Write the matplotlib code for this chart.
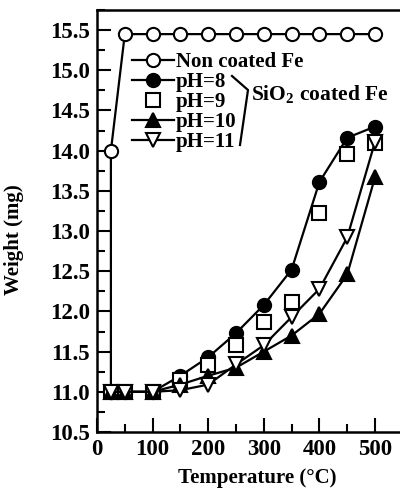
import matplotlib
matplotlib.use("Agg")
import matplotlib.pyplot as plt
from matplotlib.lines import Line2D
from matplotlib.ticker import MultipleLocator, FormatStrFormatter

plt.rcParams['font.family'] = ['Liberation Serif', 'DejaVu Serif']
plt.rcParams['font.weight'] = 'bold'
plt.rcParams['axes.labelweight'] = 'bold'
plt.rcParams['font.size'] = 15
plt.rcParams['mathtext.fontset'] = 'custom'
plt.rcParams['mathtext.rm'] = 'Liberation Serif:bold'
plt.rcParams['mathtext.bf'] = 'Liberation Serif:bold'

# data
temp_nc = [25, 25, 50, 100, 150, 200, 250, 300, 350, 400, 450, 500]
w_nc = [11.0, 14.0, 15.45, 15.45, 15.45, 15.45, 15.45, 15.45, 15.45, 15.45, 15.45, 15.45]

temp = [25, 50, 100, 150, 200, 250, 300, 350, 400, 450, 500]
w_ph8 = [11.0, 11.0, 11.0, 11.2, 11.43, 11.73, 12.08, 12.52, 13.61, 14.16, 14.3]
w_ph9 = [11.0, 11.0, 11.0, 11.15, 11.33, 11.58, 11.87, 12.12, 13.23, 13.96, 14.1]
w_ph10 = [11.0, 11.0, 11.0, 11.09, 11.2, 11.3, 11.5, 11.7, 11.97, 12.46, 13.67]
w_ph11 = [11.0, 11.0, 11.0, 11.02, 11.09, 11.34, 11.58, 11.93, 12.28, 12.92, 14.11]

fig = plt.figure(figsize=(4.0, 5.03), dpi=100)
ax = fig.add_axes([97 / 400, (503 - 432) / 503, (400 - 97) / 400, (432 - 10) / 503])

ms = 9.5
lw = 1.6
mew = 1.5
ax.plot(temp_nc, w_nc, '-o', color='k', mfc='white', ms=ms, lw=lw, mew=mew,
        label='Non coated Fe')
ax.plot(temp, w_ph8, '-o', color='k', mfc='k', ms=ms, lw=lw, mew=mew, label='pH=8')
ax.plot(temp, w_ph9, 's', color='k', mfc='white', ms=ms, mew=mew, ls='none', label='pH=9')
ax.plot(temp, w_ph10, '-^', color='k', mfc='k', ms=ms + 1, lw=lw, mew=mew, label='pH=10')
ax.plot(temp, w_ph11, '-v', color='k', mfc='white', ms=ms + 1, lw=lw, mew=mew, label='pH=11')

ax.set_xlim(0, (400 - 97) / 0.556)
ax.set_ylim(10.5, 15.75)
ax.xaxis.set_major_locator(MultipleLocator(100))
ax.xaxis.set_minor_locator(MultipleLocator(50))
ax.yaxis.set_major_locator(MultipleLocator(0.5))
ax.yaxis.set_minor_locator(MultipleLocator(0.25))
ax.yaxis.set_major_formatter(FormatStrFormatter('%.1f'))
ax.tick_params(which='both', direction='in', width=1.5, top=False, right=False)
ax.tick_params(which='major', length=10, pad=5, labelsize=16.5)
ax.tick_params(which='minor', length=6)
for s in ['left', 'bottom', 'top']:
    ax.spines[s].set_linewidth(1.8)
ax.spines['right'].set_visible(False)

ax.set_xlabel('Temperature (°C)')
ax.set_ylabel('Weight (mg)')
ax.xaxis.set_label_coords(0.53, -0.085)
ax.yaxis.set_label_coords(-0.24, 0.455)

ax.legend(loc='upper left', bbox_to_anchor=((132 - 97) / 303, 1 - (52 - 10) / 422),
          frameon=False, handlelength=2.0, handletextpad=0.1, labelspacing=0.0,
          borderaxespad=0, borderpad=0, fontsize=15)

# bracket and group label
fig.add_artist(Line2D([232 / 400, 248 / 400, 240 / 400],
                      [1 - 76 / 503, 1 - 90 / 503, 1 - 145 / 503],
                      transform=fig.transFigure, color='k', lw=1.6))
fig.text(251 / 400, 1 - 95 / 503, r'SiO$_{\mathbf{2}}$ coated Fe', va='center', ha='left',
         fontsize=15.5)

fig.savefig('out.png', dpi=100)
